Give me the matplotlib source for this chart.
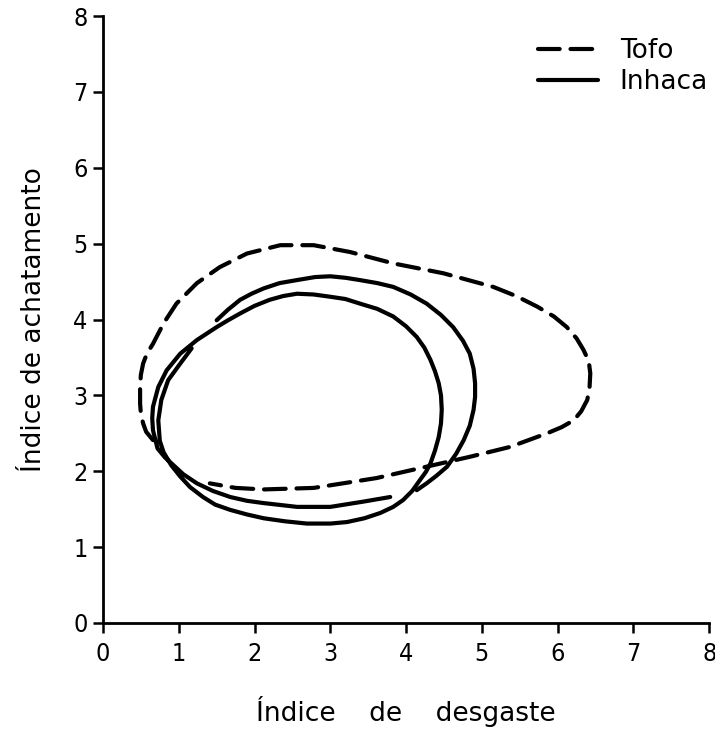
import matplotlib
matplotlib.use('Agg')
import matplotlib.pyplot as plt
from matplotlib import font_manager

# Tofo (dashed) - open curve
tofo_x = [0.66, 0.57, 0.53, 0.50, 0.49, 0.49, 0.50, 0.53, 0.58, 0.66, 0.80, 0.97,
          1.24, 1.54, 1.90, 2.34, 2.78, 3.26, 3.83, 4.49, 5.15, 5.45, 5.73, 5.95,
          6.12, 6.25, 6.34, 6.41, 6.43, 6.42, 6.39, 6.31, 6.21, 6.05, 5.86, 5.37,
          4.84, 4.27, 3.61, 3.10, 2.78, 2.12, 1.75, 1.41]
tofo_y = [2.41, 2.52, 2.63, 2.76, 2.89, 3.11, 3.27, 3.42, 3.55, 3.68, 3.95, 4.21,
          4.48, 4.69, 4.87, 4.98, 4.98, 4.89, 4.74, 4.61, 4.43, 4.31, 4.17, 4.04,
          3.90, 3.75, 3.60, 3.45, 3.29, 3.10, 2.94, 2.79, 2.67, 2.58, 2.50, 2.32,
          2.19, 2.06, 1.91, 1.83, 1.78, 1.76, 1.78, 1.84]

# Inhaca (solid) - two traces
inhaca1_x = [1.50, 1.65, 1.81, 1.96, 2.12, 2.33, 2.56, 2.80, 3.00, 3.20, 3.39,
             3.62, 3.83, 4.06, 4.27, 4.46, 4.62, 4.75, 4.84, 4.89, 4.91, 4.91,
             4.89, 4.84, 4.76, 4.66, 4.54, 4.40, 4.27, 4.14]
inhaca1_y = [3.99, 4.13, 4.26, 4.34, 4.41, 4.48, 4.52, 4.56, 4.57, 4.55, 4.52,
             4.48, 4.43, 4.33, 4.21, 4.06, 3.90, 3.72, 3.55, 3.35, 3.16, 2.98,
             2.81, 2.60, 2.41, 2.23, 2.06, 1.94, 1.84, 1.75]

inhaca2_x = [1.17, 1.02, 0.86, 0.77, 0.73, 0.75, 0.80, 0.90, 1.02, 1.15, 1.32,
             1.48, 1.68, 1.90, 2.12, 2.40, 2.69, 3.00, 3.22, 3.45, 3.66, 3.83,
             3.96, 4.08, 4.18, 4.26, 4.32, 4.38, 4.43, 4.46, 4.47, 4.46, 4.43,
             4.38, 4.32, 4.24, 4.14, 4.00, 3.83, 3.62, 3.39, 3.20, 3.00, 2.78,
             2.56, 2.38, 2.20, 2.00, 1.81, 1.65, 1.50, 1.24, 1.02, 0.84, 0.73,
             0.66, 0.65, 0.66, 0.72, 0.82, 0.93, 1.06, 1.24, 1.45, 1.68, 1.90,
             2.12, 2.56, 3.00, 3.44, 3.79]
inhaca2_y = [3.62, 3.42, 3.20, 2.94, 2.67, 2.40, 2.25, 2.08, 1.93, 1.79, 1.66,
             1.56, 1.49, 1.43, 1.38, 1.34, 1.31, 1.31, 1.33, 1.38, 1.45, 1.53,
             1.62, 1.74, 1.88, 1.99, 2.10, 2.27, 2.45, 2.63, 2.81, 3.00, 3.16,
             3.32, 3.47, 3.63, 3.77, 3.91, 4.04, 4.14, 4.21, 4.27, 4.30, 4.33,
             4.34, 4.31, 4.26, 4.18, 4.08, 3.99, 3.90, 3.73, 3.55, 3.33, 3.11,
             2.85, 2.70, 2.54, 2.30, 2.18, 2.08, 1.96, 1.84, 1.74, 1.66, 1.61,
             1.58, 1.53, 1.53, 1.60, 1.66]

ticks = list(range(0, 9))

plt.rcParams['font.family'] = ['DejaVu Sans']

# narrow face for the tick digits if one is installed
fonts = font_manager.fontManager.ttflist
names = {f.name for f in fonts}
condensed = [f for f in fonts if f.name == 'DejaVu Sans' and 'condensed' in str(f.stretch)]
if 'Liberation Sans Narrow' in names:
    tick_kw = dict(fontfamily='Liberation Sans Narrow', fontsize=18)
elif condensed:
    tick_kw = dict(fontfamily='DejaVu Sans', fontstretch='condensed', fontsize=18)
else:
    tick_kw = dict(fontfamily='DejaVu Sans', fontsize=16)

fig = plt.figure(figsize=(7.15, 7.32), dpi=100)
ax = fig.add_axes([0.144, 0.149, 0.848, 0.829])

lw = 3.0
ax.plot(tofo_x, tofo_y, color='black', lw=lw, linestyle=(0, (5.2, 2.6)),
        dash_capstyle='round', dash_joinstyle='round', label='Tofo')
ax.plot(inhaca1_x, inhaca1_y, color='black', lw=lw, solid_joinstyle='round',
        solid_capstyle='round', label='Inhaca')
ax.plot(inhaca2_x, inhaca2_y, color='black', lw=lw, solid_joinstyle='round',
        solid_capstyle='round')

ax.set_xlim(0, 8)
ax.set_ylim(0, 8)
ax.set_xticks(ticks)
ax.set_yticks(ticks)
ax.tick_params(direction='out', length=7, width=1.8)
ax.tick_params(axis='x', pad=7)
ax.tick_params(axis='y', pad=4)
for lab in ax.get_xticklabels() + ax.get_yticklabels():
    lab.update(tick_kw)
for s in ['top', 'right']:
    ax.spines[s].set_visible(False)
for s in ['left', 'bottom']:
    ax.spines[s].set_linewidth(2)

ax.set_xlabel('Índice    de    desgaste', fontsize=19)
ax.xaxis.set_label_coords(0.5, -0.12)
ax.set_ylabel('Índice de achatamento', fontsize=19)
ax.yaxis.set_label_coords(-0.092, 0.5)

ax.legend(loc='upper left', bbox_to_anchor=(538 / 715, 1 - 38 / 732),
          bbox_transform=fig.transFigure, frameon=False, fontsize=19,
          handlelength=2.27, handletextpad=0.83, labelspacing=0.2,
          borderpad=0, borderaxespad=0)

fig.savefig('out.png', dpi=100)
